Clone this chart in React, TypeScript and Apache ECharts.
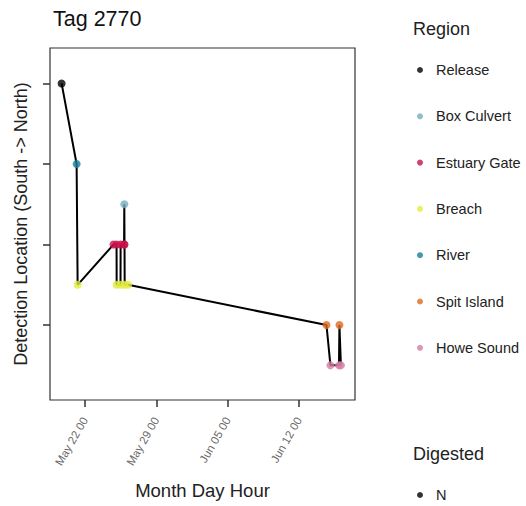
import React, { useEffect, useRef } from "react";
import * as echarts from "echarts";

// ---- Data ----
const regions = ["Release", "Box Culvert", "Estuary Gate", "Breach", "River", "Spit Island", "Howe Sound"];
const regionLevels = [5, 3.5, 3, 2.5, 4, 2, 1.5];
const regionColors = ["#000000", "#74aec0", "#c8124c", "#e2ec3c", "#187e9c", "#e0691f", "#d47ca4"];

const detectionTimes = [
  "2021-05-19 17:00",
  "2021-05-21 04:20",
  "2021-05-21 06:45",
  "2021-05-24 19:10",
  "2021-05-25 02:25",
  "2021-05-25 02:40",
  "2021-05-25 11:45",
  "2021-05-25 12:00",
  "2021-05-25 20:10",
  "2021-05-25 20:40",
  "2021-05-25 21:10",
  "2021-05-25 21:35",
  "2021-05-26 05:20",
  "2021-06-14 16:50",
  "2021-06-15 02:10",
  "2021-06-15 22:15",
  "2021-06-15 23:20",
  "2021-06-16 02:50",
];
const detectionRegions = [
  "Release",
  "River",
  "Breach",
  "Estuary Gate",
  "Estuary Gate",
  "Breach",
  "Breach",
  "Estuary Gate",
  "Estuary Gate",
  "Box Culvert",
  "Estuary Gate",
  "Breach",
  "Breach",
  "Spit Island",
  "Howe Sound",
  "Howe Sound",
  "Spit Island",
  "Howe Sound",
];

const xTickTimes = ["2021-05-22 00:00", "2021-05-29 00:00", "2021-06-05 00:00", "2021-06-12 00:00"];
const xRange = ["2021-05-18 13:40", "2021-06-17 12:00"];
const yTicks = [2, 3, 4, 5];
const yRange = [1.07, 5.44];
const digestedLevels = ["N"];

const monthNames = ["Jan", "Feb", "Mar", "Apr", "May", "Jun", "Jul", "Aug", "Sep", "Oct", "Nov", "Dec"];

function parseTime(s: string): number {
  const [d, t] = s.split(" ");
  const [y, m, dd] = d.split("-").map(Number);
  const [h, mi] = t.split(":").map(Number);
  return Date.UTC(y, m - 1, dd, h, mi);
}
const pad = (n: number) => (n < 10 ? "0" + n : "" + n);
function fmtTick(v: number): string {
  const d = new Date(v);
  return `${monthNames[d.getUTCMonth()]} ${pad(d.getUTCDate())} ${pad(d.getUTCHours())}`;
}

const FONT = "Liberation Sans, Arial, Helvetica, sans-serif";

export default function App() {
  const ref = useRef<HTMLDivElement>(null);
  useEffect(() => {
    if (!ref.current) return;
    const chart = echarts.init(ref.current, undefined, { renderer: "svg" });
    const levelOf = (r: string) => regionLevels[regions.indexOf(r)];
    const pathData = detectionTimes.map((t, i) => [parseTime(t), levelOf(detectionRegions[i])]);
    const scatterSeries = regions.map((r, ri) => ({
      type: "scatter",
      name: r,
      symbol: "circle",
      symbolSize: 8,
      z: 3,
      itemStyle: { color: regionColors[ri] },
      data: detectionTimes
        .map((t, i) => ({ t, r: detectionRegions[i] }))
        .filter((d) => d.r === r)
        .map((d) => [parseTime(d.t), regionLevels[ri]]),
    }));
    const xTicks = xTickTimes.map(parseTime);
    chart.setOption({
      animation: false,
      textStyle: { fontFamily: FONT },
      title: {
        text: "Tag 2770",
        left: 48,
        top: 3,
        textStyle: { fontSize: 21.5, fontWeight: "normal", color: "#111", fontFamily: FONT },
      },
      grid: {
        left: 50,
        right: 171,
        top: 48,
        bottom: 106,
        show: true,
        borderColor: "#333",
        borderWidth: 1.2,
        backgroundColor: "transparent",
      },
      xAxis: {
        type: "value",
        min: parseTime(xRange[0]),
        max: parseTime(xRange[1]),
        name: "Month Day Hour",
        nameLocation: "middle",
        nameGap: 81,
        nameTextStyle: { fontSize: 18.5, color: "#222", fontFamily: FONT },
        axisLine: { show: false },
        axisTick: { show: true, customValues: xTicks, length: 7, lineStyle: { color: "#333", width: 1.5 } },
        axisLabel: {
          customValues: xTicks,
          formatter: (v: number) => fmtTick(v),
          rotate: 60,
          fontSize: 11.5,
          color: "#6a6a6a",
          margin: 18,
          fontFamily: FONT,
        },
        splitLine: { show: false },
      },
      yAxis: {
        type: "value",
        min: yRange[0],
        max: yRange[1],
        name: "Detection Location (South -> North)",
        nameLocation: "middle",
        nameGap: 20,
        nameTextStyle: { fontSize: 18, color: "#222", fontFamily: FONT },
        axisLine: { show: false },
        axisTick: { show: true, customValues: yTicks, length: 7, lineStyle: { color: "#333", width: 1.5 } },
        axisLabel: { show: false, customValues: yTicks },
        splitLine: { show: false },
      },
      legend: [
        {
          orient: "vertical",
          left: 412,
          top: 57,
          data: regions,
          icon: "circle",
          itemWidth: 22,
          itemHeight: 6,
          itemGap: 30.3,
          textStyle: { fontSize: 14.5, color: "#222", lineHeight: 16, fontFamily: FONT },
          selectedMode: false,
        },
        {
          orient: "vertical",
          left: 412,
          top: 482,
          data: digestedLevels,
          icon: "circle",
          itemWidth: 22,
          itemHeight: 6,
          textStyle: { fontSize: 14.5, color: "#222", lineHeight: 16, fontFamily: FONT },
          selectedMode: false,
        },
      ],
      graphic: [
        {
          type: "text",
          left: 413,
          top: 20,
          style: { text: "Region", fontSize: 18, fill: "#222", fontFamily: FONT },
        },
        {
          type: "text",
          left: 413,
          top: 445,
          style: { text: "Digested", fontSize: 18, fill: "#222", fontFamily: FONT },
        },
      ],
      series: [
        {
          type: "line",
          name: "path",
          data: pathData,
          showSymbol: false,
          symbol: "none",
          z: 1,
          lineStyle: { color: "#000", width: 2 },
        },
        ...scatterSeries,
        {
          type: "scatter",
          name: "N",
          data: [],
          itemStyle: { color: "#000" },
        },
      ],
    });
    return () => chart.dispose();
  }, []);
  return (
    <div
      ref={ref}
      style={{ position: "fixed", left: 0, top: 0, width: 526, height: 506, background: "#fff" }}
    />
  );
}
